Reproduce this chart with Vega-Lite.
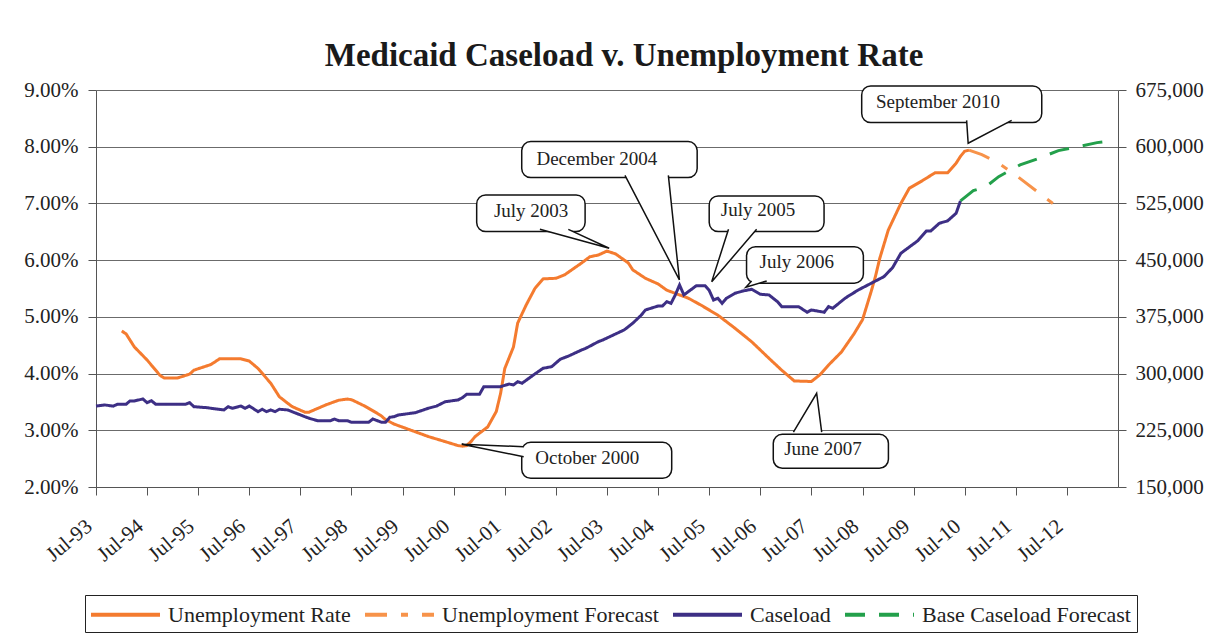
{
  "$schema": "https://vega.github.io/schema/vega-lite/v6.json",
  "autosize": {"type": "none"},
  "width": 1022,
  "height": 397,
  "padding": {"left": 96, "top": 90, "right": 100, "bottom": 151},
  "background": "white",
  "title": {"text": "Medicaid Caseload v. Unemployment Rate", "font": "Liberation Serif", "fontSize": 33, "fontWeight": "bold", "color": "#1a1a1a", "anchor": "middle", "offset": 6, "dx": 17},
  "config": {
    "font": "Liberation Serif",
    "view": {"stroke": null},
    "axis": {"labelFont": "Liberation Serif", "labelColor": "#222", "domainColor": "#555", "tickColor": "#555", "tickSize": 8, "labelFontSize": 21},
    "legend": {"orient": "none", "legendX": -11, "legendY": 505, "direction": "horizontal", "symbolType": "M-3,0H3", "symbolSize": 529, "symbolOffset": 21, "labelOffset": 29, "symbolStrokeWidth": 4, "labelFont": "Liberation Serif", "labelFontSize": 22, "labelColor": "#222", "strokeColor": "#222", "padding": 6, "columnPadding": 6, "labelLimit": 400}
  },
  "datasets": {
    "unemp": [
      {"date": "1994-01-01", "series": "Unemployment Rate", "rate": 0.0475},
      {"date": "1994-02-01", "series": "Unemployment Rate", "rate": 0.0470},
      {"date": "1994-04-01", "series": "Unemployment Rate", "rate": 0.0447},
      {"date": "1994-07-01", "series": "Unemployment Rate", "rate": 0.0424},
      {"date": "1994-10-01", "series": "Unemployment Rate", "rate": 0.0397},
      {"date": "1994-11-01", "series": "Unemployment Rate", "rate": 0.0392},
      {"date": "1995-02-01", "series": "Unemployment Rate", "rate": 0.0392},
      {"date": "1995-05-01", "series": "Unemployment Rate", "rate": 0.0399},
      {"date": "1995-06-01", "series": "Unemployment Rate", "rate": 0.0406},
      {"date": "1995-10-01", "series": "Unemployment Rate", "rate": 0.0416},
      {"date": "1995-12-01", "series": "Unemployment Rate", "rate": 0.0426},
      {"date": "1996-05-01", "series": "Unemployment Rate", "rate": 0.0426},
      {"date": "1996-07-01", "series": "Unemployment Rate", "rate": 0.0422},
      {"date": "1996-09-01", "series": "Unemployment Rate", "rate": 0.0409},
      {"date": "1996-12-01", "series": "Unemployment Rate", "rate": 0.0383},
      {"date": "1997-02-01", "series": "Unemployment Rate", "rate": 0.0359},
      {"date": "1997-05-01", "series": "Unemployment Rate", "rate": 0.0342},
      {"date": "1997-08-01", "series": "Unemployment Rate", "rate": 0.0332},
      {"date": "1997-09-01", "series": "Unemployment Rate", "rate": 0.0332},
      {"date": "1998-01-01", "series": "Unemployment Rate", "rate": 0.0345},
      {"date": "1998-04-01", "series": "Unemployment Rate", "rate": 0.0353},
      {"date": "1998-06-01", "series": "Unemployment Rate", "rate": 0.0355},
      {"date": "1998-07-01", "series": "Unemployment Rate", "rate": 0.0354},
      {"date": "1998-10-01", "series": "Unemployment Rate", "rate": 0.0343},
      {"date": "1999-01-01", "series": "Unemployment Rate", "rate": 0.0330},
      {"date": "1999-02-01", "series": "Unemployment Rate", "rate": 0.0325},
      {"date": "1999-03-01", "series": "Unemployment Rate", "rate": 0.0319},
      {"date": "1999-05-01", "series": "Unemployment Rate", "rate": 0.0311},
      {"date": "1999-09-01", "series": "Unemployment Rate", "rate": 0.0300},
      {"date": "2000-01-01", "series": "Unemployment Rate", "rate": 0.0289},
      {"date": "2000-05-01", "series": "Unemployment Rate", "rate": 0.0280},
      {"date": "2000-08-01", "series": "Unemployment Rate", "rate": 0.0273},
      {"date": "2000-09-01", "series": "Unemployment Rate", "rate": 0.0272},
      {"date": "2000-10-01", "series": "Unemployment Rate", "rate": 0.0273},
      {"date": "2000-11-01", "series": "Unemployment Rate", "rate": 0.0280},
      {"date": "2000-12-01", "series": "Unemployment Rate", "rate": 0.0289},
      {"date": "2001-03-01", "series": "Unemployment Rate", "rate": 0.0306},
      {"date": "2001-05-01", "series": "Unemployment Rate", "rate": 0.0333},
      {"date": "2001-06-01", "series": "Unemployment Rate", "rate": 0.0365},
      {"date": "2001-07-01", "series": "Unemployment Rate", "rate": 0.0409},
      {"date": "2001-09-01", "series": "Unemployment Rate", "rate": 0.0447},
      {"date": "2001-10-01", "series": "Unemployment Rate", "rate": 0.0489},
      {"date": "2001-12-01", "series": "Unemployment Rate", "rate": 0.0521},
      {"date": "2002-02-01", "series": "Unemployment Rate", "rate": 0.0550},
      {"date": "2002-04-01", "series": "Unemployment Rate", "rate": 0.0567},
      {"date": "2002-07-01", "series": "Unemployment Rate", "rate": 0.0568},
      {"date": "2002-09-01", "series": "Unemployment Rate", "rate": 0.0574},
      {"date": "2003-01-01", "series": "Unemployment Rate", "rate": 0.0595},
      {"date": "2003-03-01", "series": "Unemployment Rate", "rate": 0.0606},
      {"date": "2003-05-01", "series": "Unemployment Rate", "rate": 0.0609},
      {"date": "2003-07-01", "series": "Unemployment Rate", "rate": 0.0616},
      {"date": "2003-09-01", "series": "Unemployment Rate", "rate": 0.0611},
      {"date": "2003-12-01", "series": "Unemployment Rate", "rate": 0.0595},
      {"date": "2004-01-01", "series": "Unemployment Rate", "rate": 0.0583},
      {"date": "2004-04-01", "series": "Unemployment Rate", "rate": 0.0568},
      {"date": "2004-07-01", "series": "Unemployment Rate", "rate": 0.0558},
      {"date": "2004-09-01", "series": "Unemployment Rate", "rate": 0.0547},
      {"date": "2005-02-01", "series": "Unemployment Rate", "rate": 0.0533},
      {"date": "2005-05-01", "series": "Unemployment Rate", "rate": 0.0521},
      {"date": "2005-09-01", "series": "Unemployment Rate", "rate": 0.0503},
      {"date": "2006-01-01", "series": "Unemployment Rate", "rate": 0.0480},
      {"date": "2006-05-01", "series": "Unemployment Rate", "rate": 0.0456},
      {"date": "2006-09-01", "series": "Unemployment Rate", "rate": 0.0427},
      {"date": "2006-12-01", "series": "Unemployment Rate", "rate": 0.0406},
      {"date": "2007-03-01", "series": "Unemployment Rate", "rate": 0.0387},
      {"date": "2007-07-01", "series": "Unemployment Rate", "rate": 0.0386},
      {"date": "2007-09-01", "series": "Unemployment Rate", "rate": 0.0398},
      {"date": "2007-11-01", "series": "Unemployment Rate", "rate": 0.0415},
      {"date": "2008-02-01", "series": "Unemployment Rate", "rate": 0.0438},
      {"date": "2008-05-01", "series": "Unemployment Rate", "rate": 0.0470},
      {"date": "2008-07-01", "series": "Unemployment Rate", "rate": 0.0495},
      {"date": "2008-08-01", "series": "Unemployment Rate", "rate": 0.0520},
      {"date": "2008-09-01", "series": "Unemployment Rate", "rate": 0.0545},
      {"date": "2008-10-01", "series": "Unemployment Rate", "rate": 0.0571},
      {"date": "2008-11-01", "series": "Unemployment Rate", "rate": 0.0603},
      {"date": "2009-01-01", "series": "Unemployment Rate", "rate": 0.0653},
      {"date": "2009-04-01", "series": "Unemployment Rate", "rate": 0.0700},
      {"date": "2009-06-01", "series": "Unemployment Rate", "rate": 0.0727},
      {"date": "2009-09-01", "series": "Unemployment Rate", "rate": 0.0740},
      {"date": "2009-12-01", "series": "Unemployment Rate", "rate": 0.0754},
      {"date": "2010-03-01", "series": "Unemployment Rate", "rate": 0.0754},
      {"date": "2010-05-01", "series": "Unemployment Rate", "rate": 0.0771},
      {"date": "2010-06-01", "series": "Unemployment Rate", "rate": 0.0783},
      {"date": "2010-07-01", "series": "Unemployment Rate", "rate": 0.0792},
      {"date": "2010-08-01", "series": "Unemployment Rate", "rate": 0.0794},
      {"date": "2010-08-01", "series": "Unemployment Forecast", "rate": 0.0794},
      {"date": "2010-11-01", "series": "Unemployment Forecast", "rate": 0.0786},
      {"date": "2011-03-01", "series": "Unemployment Forecast", "rate": 0.0771},
      {"date": "2011-07-01", "series": "Unemployment Forecast", "rate": 0.0750},
      {"date": "2012-01-01", "series": "Unemployment Forecast", "rate": 0.0715},
      {"date": "2012-06-01", "series": "Unemployment Forecast", "rate": 0.0687}
    ],
    "caseload": [
      {"date": "1993-07-01", "series": "Caseload", "caseload": 257000},
      {"date": "1993-09-01", "series": "Caseload", "caseload": 258500},
      {"date": "1993-11-01", "series": "Caseload", "caseload": 257000},
      {"date": "1993-12-01", "series": "Caseload", "caseload": 259400},
      {"date": "1994-02-01", "series": "Caseload", "caseload": 259400},
      {"date": "1994-03-01", "series": "Caseload", "caseload": 263800},
      {"date": "1994-04-01", "series": "Caseload", "caseload": 263800},
      {"date": "1994-06-01", "series": "Caseload", "caseload": 266400},
      {"date": "1994-07-01", "series": "Caseload", "caseload": 261500},
      {"date": "1994-08-01", "series": "Caseload", "caseload": 264100},
      {"date": "1994-09-01", "series": "Caseload", "caseload": 259400},
      {"date": "1995-04-01", "series": "Caseload", "caseload": 259400},
      {"date": "1995-05-01", "series": "Caseload", "caseload": 261500},
      {"date": "1995-06-01", "series": "Caseload", "caseload": 256200},
      {"date": "1995-09-01", "series": "Caseload", "caseload": 254900},
      {"date": "1995-10-01", "series": "Caseload", "caseload": 254100},
      {"date": "1996-01-01", "series": "Caseload", "caseload": 251900},
      {"date": "1996-02-01", "series": "Caseload", "caseload": 256200},
      {"date": "1996-03-01", "series": "Caseload", "caseload": 254100},
      {"date": "1996-05-01", "series": "Caseload", "caseload": 257100},
      {"date": "1996-06-01", "series": "Caseload", "caseload": 254100},
      {"date": "1996-07-01", "series": "Caseload", "caseload": 257100},
      {"date": "1996-09-01", "series": "Caseload", "caseload": 249600},
      {"date": "1996-10-01", "series": "Caseload", "caseload": 252800},
      {"date": "1996-11-01", "series": "Caseload", "caseload": 249600},
      {"date": "1996-12-01", "series": "Caseload", "caseload": 251900},
      {"date": "1997-01-01", "series": "Caseload", "caseload": 249600},
      {"date": "1997-02-01", "series": "Caseload", "caseload": 252800},
      {"date": "1997-04-01", "series": "Caseload", "caseload": 251900},
      {"date": "1997-06-01", "series": "Caseload", "caseload": 247500},
      {"date": "1997-08-01", "series": "Caseload", "caseload": 243000},
      {"date": "1997-09-01", "series": "Caseload", "caseload": 240900},
      {"date": "1997-11-01", "series": "Caseload", "caseload": 237700},
      {"date": "1998-02-01", "series": "Caseload", "caseload": 237700},
      {"date": "1998-03-01", "series": "Caseload", "caseload": 239900},
      {"date": "1998-04-01", "series": "Caseload", "caseload": 237700},
      {"date": "1998-06-01", "series": "Caseload", "caseload": 237700},
      {"date": "1998-07-01", "series": "Caseload", "caseload": 235600},
      {"date": "1998-11-01", "series": "Caseload", "caseload": 235600},
      {"date": "1998-12-01", "series": "Caseload", "caseload": 239900},
      {"date": "1999-02-01", "series": "Caseload", "caseload": 235600},
      {"date": "1999-03-01", "series": "Caseload", "caseload": 235600},
      {"date": "1999-04-01", "series": "Caseload", "caseload": 242200},
      {"date": "1999-05-01", "series": "Caseload", "caseload": 243000},
      {"date": "1999-06-01", "series": "Caseload", "caseload": 245200},
      {"date": "1999-10-01", "series": "Caseload", "caseload": 248300},
      {"date": "2000-01-01", "series": "Caseload", "caseload": 254100},
      {"date": "2000-03-01", "series": "Caseload", "caseload": 257100},
      {"date": "2000-05-01", "series": "Caseload", "caseload": 262800},
      {"date": "2000-08-01", "series": "Caseload", "caseload": 265100},
      {"date": "2000-09-01", "series": "Caseload", "caseload": 268100},
      {"date": "2000-10-01", "series": "Caseload", "caseload": 272600},
      {"date": "2001-01-01", "series": "Caseload", "caseload": 272600},
      {"date": "2001-02-01", "series": "Caseload", "caseload": 282700},
      {"date": "2001-06-01", "series": "Caseload", "caseload": 282700},
      {"date": "2001-08-01", "series": "Caseload", "caseload": 286200},
      {"date": "2001-09-01", "series": "Caseload", "caseload": 284900},
      {"date": "2001-10-01", "series": "Caseload", "caseload": 289300},
      {"date": "2001-11-01", "series": "Caseload", "caseload": 287200},
      {"date": "2002-02-01", "series": "Caseload", "caseload": 299500},
      {"date": "2002-04-01", "series": "Caseload", "caseload": 307000},
      {"date": "2002-06-01", "series": "Caseload", "caseload": 309100},
      {"date": "2002-08-01", "series": "Caseload", "caseload": 318900},
      {"date": "2002-10-01", "series": "Caseload", "caseload": 323300},
      {"date": "2003-01-01", "series": "Caseload", "caseload": 331200},
      {"date": "2003-02-01", "series": "Caseload", "caseload": 333500},
      {"date": "2003-05-01", "series": "Caseload", "caseload": 342200},
      {"date": "2003-06-01", "series": "Caseload", "caseload": 344400},
      {"date": "2003-08-01", "series": "Caseload", "caseload": 349700},
      {"date": "2003-11-01", "series": "Caseload", "caseload": 357700},
      {"date": "2004-01-01", "series": "Caseload", "caseload": 366500},
      {"date": "2004-03-01", "series": "Caseload", "caseload": 377000},
      {"date": "2004-04-01", "series": "Caseload", "caseload": 384100},
      {"date": "2004-07-01", "series": "Caseload", "caseload": 389400},
      {"date": "2004-08-01", "series": "Caseload", "caseload": 389400},
      {"date": "2004-09-01", "series": "Caseload", "caseload": 395100},
      {"date": "2004-10-01", "series": "Caseload", "caseload": 392900},
      {"date": "2004-11-01", "series": "Caseload", "caseload": 404000},
      {"date": "2004-12-01", "series": "Caseload", "caseload": 417200},
      {"date": "2005-01-01", "series": "Caseload", "caseload": 404000},
      {"date": "2005-04-01", "series": "Caseload", "caseload": 416300},
      {"date": "2005-06-01", "series": "Caseload", "caseload": 416300},
      {"date": "2005-07-01", "series": "Caseload", "caseload": 410000},
      {"date": "2005-08-01", "series": "Caseload", "caseload": 397300},
      {"date": "2005-09-01", "series": "Caseload", "caseload": 399600},
      {"date": "2005-10-01", "series": "Caseload", "caseload": 392900},
      {"date": "2005-11-01", "series": "Caseload", "caseload": 399600},
      {"date": "2006-01-01", "series": "Caseload", "caseload": 406200},
      {"date": "2006-03-01", "series": "Caseload", "caseload": 409300},
      {"date": "2006-05-01", "series": "Caseload", "caseload": 411500},
      {"date": "2006-07-01", "series": "Caseload", "caseload": 404900},
      {"date": "2006-09-01", "series": "Caseload", "caseload": 404000},
      {"date": "2006-11-01", "series": "Caseload", "caseload": 395100},
      {"date": "2006-12-01", "series": "Caseload", "caseload": 388500},
      {"date": "2007-04-01", "series": "Caseload", "caseload": 388500},
      {"date": "2007-06-01", "series": "Caseload", "caseload": 381100},
      {"date": "2007-07-01", "series": "Caseload", "caseload": 384100},
      {"date": "2007-10-01", "series": "Caseload", "caseload": 381100},
      {"date": "2007-11-01", "series": "Caseload", "caseload": 388500},
      {"date": "2007-12-01", "series": "Caseload", "caseload": 386400},
      {"date": "2008-03-01", "series": "Caseload", "caseload": 400000},
      {"date": "2008-06-01", "series": "Caseload", "caseload": 410600},
      {"date": "2008-09-01", "series": "Caseload", "caseload": 419400},
      {"date": "2008-12-01", "series": "Caseload", "caseload": 428200},
      {"date": "2009-02-01", "series": "Caseload", "caseload": 440100},
      {"date": "2009-04-01", "series": "Caseload", "caseload": 459100},
      {"date": "2009-08-01", "series": "Caseload", "caseload": 475800},
      {"date": "2009-10-01", "series": "Caseload", "caseload": 488600},
      {"date": "2009-11-01", "series": "Caseload", "caseload": 488600},
      {"date": "2010-01-01", "series": "Caseload", "caseload": 498800},
      {"date": "2010-03-01", "series": "Caseload", "caseload": 501900},
      {"date": "2010-05-01", "series": "Caseload", "caseload": 512000},
      {"date": "2010-06-01", "series": "Caseload", "caseload": 528300},
      {"date": "2010-06-01", "series": "Base Caseload Forecast", "caseload": 528300},
      {"date": "2010-09-01", "series": "Base Caseload Forecast", "caseload": 541900},
      {"date": "2010-12-01", "series": "Base Caseload Forecast", "caseload": 547200},
      {"date": "2011-03-01", "series": "Base Caseload Forecast", "caseload": 560400},
      {"date": "2011-08-01", "series": "Base Caseload Forecast", "caseload": 575900},
      {"date": "2011-12-01", "series": "Base Caseload Forecast", "caseload": 583800},
      {"date": "2012-05-01", "series": "Base Caseload Forecast", "caseload": 594800},
      {"date": "2012-09-01", "series": "Base Caseload Forecast", "caseload": 599300},
      {"date": "2013-02-01", "series": "Base Caseload Forecast", "caseload": 605400},
      {"date": "2013-06-01", "series": "Base Caseload Forecast", "caseload": 608000}
    ],
    "boxes": [
      {"id": "Sep2010", "start": "2008-06-25", "end": "2012-01-03", "top": 0.09072, "bottom": 0.08425},
      {"id": "Dec2004", "start": "2001-10-30", "end": "2005-04-06", "top": 0.0809, "bottom": 0.07455},
      {"id": "Jul2003", "start": "2000-12-12", "end": "2003-01-26", "top": 0.0715, "bottom": 0.06503},
      {"id": "Jul2005", "start": "2005-07-01", "end": "2007-09-30", "top": 0.07132, "bottom": 0.06503},
      {"id": "Jul2006", "start": "2006-03-25", "end": "2008-07-07", "top": 0.06238, "bottom": 0.05593},
      {"id": "Oct2000", "start": "2001-10-30", "end": "2004-10-06", "top": 0.02788, "bottom": 0.02153},
      {"id": "Jun2007", "start": "2006-10-02", "end": "2009-01-02", "top": 0.02929, "bottom": 0.0233}
    ],
    "pointers": [
      {"id": "Sep2010", "ord": 1, "date": "2010-07-15", "p": 0.08465},
      {"id": "Sep2010", "ord": 2, "date": "2010-07-26", "p": 0.08062},
      {"id": "Sep2010", "ord": 3, "date": "2011-06-02", "p": 0.08465},
      {"id": "Dec2004", "ord": 1, "date": "2003-11-07", "p": 0.07495},
      {"id": "Dec2004", "ord": 2, "date": "2004-11-30", "p": 0.05651},
      {"id": "Dec2004", "ord": 3, "date": "2004-09-12", "p": 0.07495},
      {"id": "Jul2003", "ord": 1, "date": "2002-03-09", "p": 0.06543},
      {"id": "Jul2003", "ord": 2, "date": "2003-07-17", "p": 0.0621},
      {"id": "Jul2003", "ord": 3, "date": "2002-09-28", "p": 0.06543},
      {"id": "Jul2005", "ord": 1, "date": "2005-11-16", "p": 0.06543},
      {"id": "Jul2005", "ord": 2, "date": "2005-07-19", "p": 0.05621},
      {"id": "Jul2005", "ord": 3, "date": "2006-06-05", "p": 0.06543},
      {"id": "Jul2006", "ord": 1, "date": "2006-04-30", "p": 0.05633},
      {"id": "Jul2006", "ord": 2, "date": "2006-03-20", "p": 0.05522},
      {"id": "Jul2006", "ord": 3, "date": "2006-08-16", "p": 0.05633},
      {"id": "Oct2000", "ord": 1, "date": "2001-11-13", "p": 0.02711},
      {"id": "Oct2000", "ord": 2, "date": "2000-08-27", "p": 0.02753},
      {"id": "Oct2000", "ord": 3, "date": "2001-11-13", "p": 0.02534},
      {"id": "Jun2007", "ord": 1, "date": "2007-02-23", "p": 0.02969},
      {"id": "Jun2007", "ord": 2, "date": "2007-08-08", "p": 0.03653},
      {"id": "Jun2007", "ord": 3, "date": "2007-09-13", "p": 0.02969}
    ],
    "labels": [
      {"label": "September 2010", "date": "2009-12-22", "p": 0.0879},
      {"label": "December 2004", "date": "2003-04-20", "p": 0.07785},
      {"label": "July 2003", "date": "2002-01-05", "p": 0.06868},
      {"label": "July 2005", "date": "2006-06-15", "p": 0.06885},
      {"label": "July 2006", "date": "2007-03-19", "p": 0.05968},
      {"label": "October 2000", "date": "2003-02-10", "p": 0.02511},
      {"label": "June 2007", "date": "2007-09-22", "p": 0.0267}
    ]
  },
  "layer": [
    {
      "data": {"name": "unemp"},
      "mark": {"type": "line", "strokeWidth": 3},
      "encoding": {
        "x": {"field": "date", "type": "temporal", "title": null,
          "scale": {"type": "utc", "domain": [{"year": 1993, "month": 7, "date": 1, "utc": true}, {"year": 2013, "month": 7, "date": 1, "utc": true}]},
          "axis": {"values": [
            {"year": 1993, "month": 7, "date": 1, "utc": true}, {"year": 1994, "month": 7, "date": 1, "utc": true},
            {"year": 1995, "month": 7, "date": 1, "utc": true}, {"year": 1996, "month": 7, "date": 1, "utc": true},
            {"year": 1997, "month": 7, "date": 1, "utc": true}, {"year": 1998, "month": 7, "date": 1, "utc": true},
            {"year": 1999, "month": 7, "date": 1, "utc": true}, {"year": 2000, "month": 7, "date": 1, "utc": true},
            {"year": 2001, "month": 7, "date": 1, "utc": true}, {"year": 2002, "month": 7, "date": 1, "utc": true},
            {"year": 2003, "month": 7, "date": 1, "utc": true}, {"year": 2004, "month": 7, "date": 1, "utc": true},
            {"year": 2005, "month": 7, "date": 1, "utc": true}, {"year": 2006, "month": 7, "date": 1, "utc": true},
            {"year": 2007, "month": 7, "date": 1, "utc": true}, {"year": 2008, "month": 7, "date": 1, "utc": true},
            {"year": 2009, "month": 7, "date": 1, "utc": true}, {"year": 2010, "month": 7, "date": 1, "utc": true},
            {"year": 2011, "month": 7, "date": 1, "utc": true}, {"year": 2012, "month": 7, "date": 1, "utc": true}],
            "labelExpr": "utcFormat(datum.value, '%b-%y')", "labelAngle": -40, "labelOverlap": false, "grid": false, "labelFontSize": 21, "labelPadding": 20, "labelOffset": -14}},
        "y": {"field": "rate", "type": "quantitative", "title": null,
          "scale": {"domain": [0.02, 0.09], "nice": false, "zero": false},
          "axis": {"values": [0.02, 0.03, 0.04, 0.05, 0.06, 0.07, 0.08, 0.09], "format": ".2%", "grid": true, "gridColor": "#6b6b6b", "gridWidth": 1, "labelPadding": 10}},
        "color": {"field": "series", "type": "nominal", "title": null,
          "scale": {"domain": ["Unemployment Rate", "Unemployment Forecast", "Caseload", "Base Caseload Forecast"], "range": ["#F47B2F", "#F7934A", "#3D2F85", "#23A04B"]}},
        "strokeDash": {"field": "series", "type": "nominal", "title": null,
          "scale": {"domain": ["Unemployment Rate", "Unemployment Forecast", "Caseload", "Base Caseload Forecast"], "range": [[1, 0], [22, 14, 7, 14], [1, 0], [20, 14]]}}
      }
    },
    {
      "data": {"name": "caseload"},
      "mark": {"type": "line", "strokeWidth": 3},
      "encoding": {
        "x": {"field": "date", "type": "temporal", "title": null,
          "scale": {"type": "utc", "domain": [{"year": 1993, "month": 7, "date": 1, "utc": true}, {"year": 2013, "month": 7, "date": 1, "utc": true}]}},
        "y": {"field": "caseload", "type": "quantitative", "title": null,
          "scale": {"domain": [150000, 675000], "nice": false, "zero": false},
          "axis": {"orient": "right", "values": [150000, 225000, 300000, 375000, 450000, 525000, 600000, 675000], "format": ",.0f", "grid": false, "labelPadding": 9}},
        "color": {"field": "series", "type": "nominal", "title": null},
        "strokeDash": {"field": "series", "type": "nominal", "title": null}
      }
    },
    {
      "data": {"name": "boxes"},
      "mark": {"type": "rect", "fill": "white", "stroke": "#111", "strokeWidth": 1.5, "cornerRadius": 9},
      "encoding": {
        "x": {"field": "start", "type": "temporal", "title": null,
          "scale": {"type": "utc", "domain": [{"year": 1993, "month": 7, "date": 1, "utc": true}, {"year": 2013, "month": 7, "date": 1, "utc": true}]}},
        "x2": {"field": "end"},
        "y": {"field": "top", "type": "quantitative", "title": null, "axis": null,
          "scale": {"domain": [0.02, 0.09], "nice": false, "zero": false}},
        "y2": {"field": "bottom"}
      }
    },
    {
      "data": {"name": "pointers"},
      "mark": {"type": "line", "stroke": "#111", "strokeWidth": 1.5, "fill": "white"},
      "encoding": {
        "x": {"field": "date", "type": "temporal", "title": null,
          "scale": {"type": "utc", "domain": [{"year": 1993, "month": 7, "date": 1, "utc": true}, {"year": 2013, "month": 7, "date": 1, "utc": true}]}},
        "y": {"field": "p", "type": "quantitative", "title": null, "axis": null,
          "scale": {"domain": [0.02, 0.09], "nice": false, "zero": false}},
        "detail": {"field": "id", "type": "nominal"},
        "order": {"field": "ord", "type": "quantitative"}
      }
    },
    {
      "data": {"name": "labels"},
      "mark": {"type": "text", "font": "Liberation Serif", "fontSize": 19, "color": "#222"},
      "encoding": {
        "x": {"field": "date", "type": "temporal", "title": null,
          "scale": {"type": "utc", "domain": [{"year": 1993, "month": 7, "date": 1, "utc": true}, {"year": 2013, "month": 7, "date": 1, "utc": true}]}},
        "y": {"field": "p", "type": "quantitative", "title": null, "axis": null,
          "scale": {"domain": [0.02, 0.09], "nice": false, "zero": false}},
        "text": {"field": "label", "type": "nominal"}
      }
    }
  ],
  "resolve": {"scale": {"y": "independent"}}
}
